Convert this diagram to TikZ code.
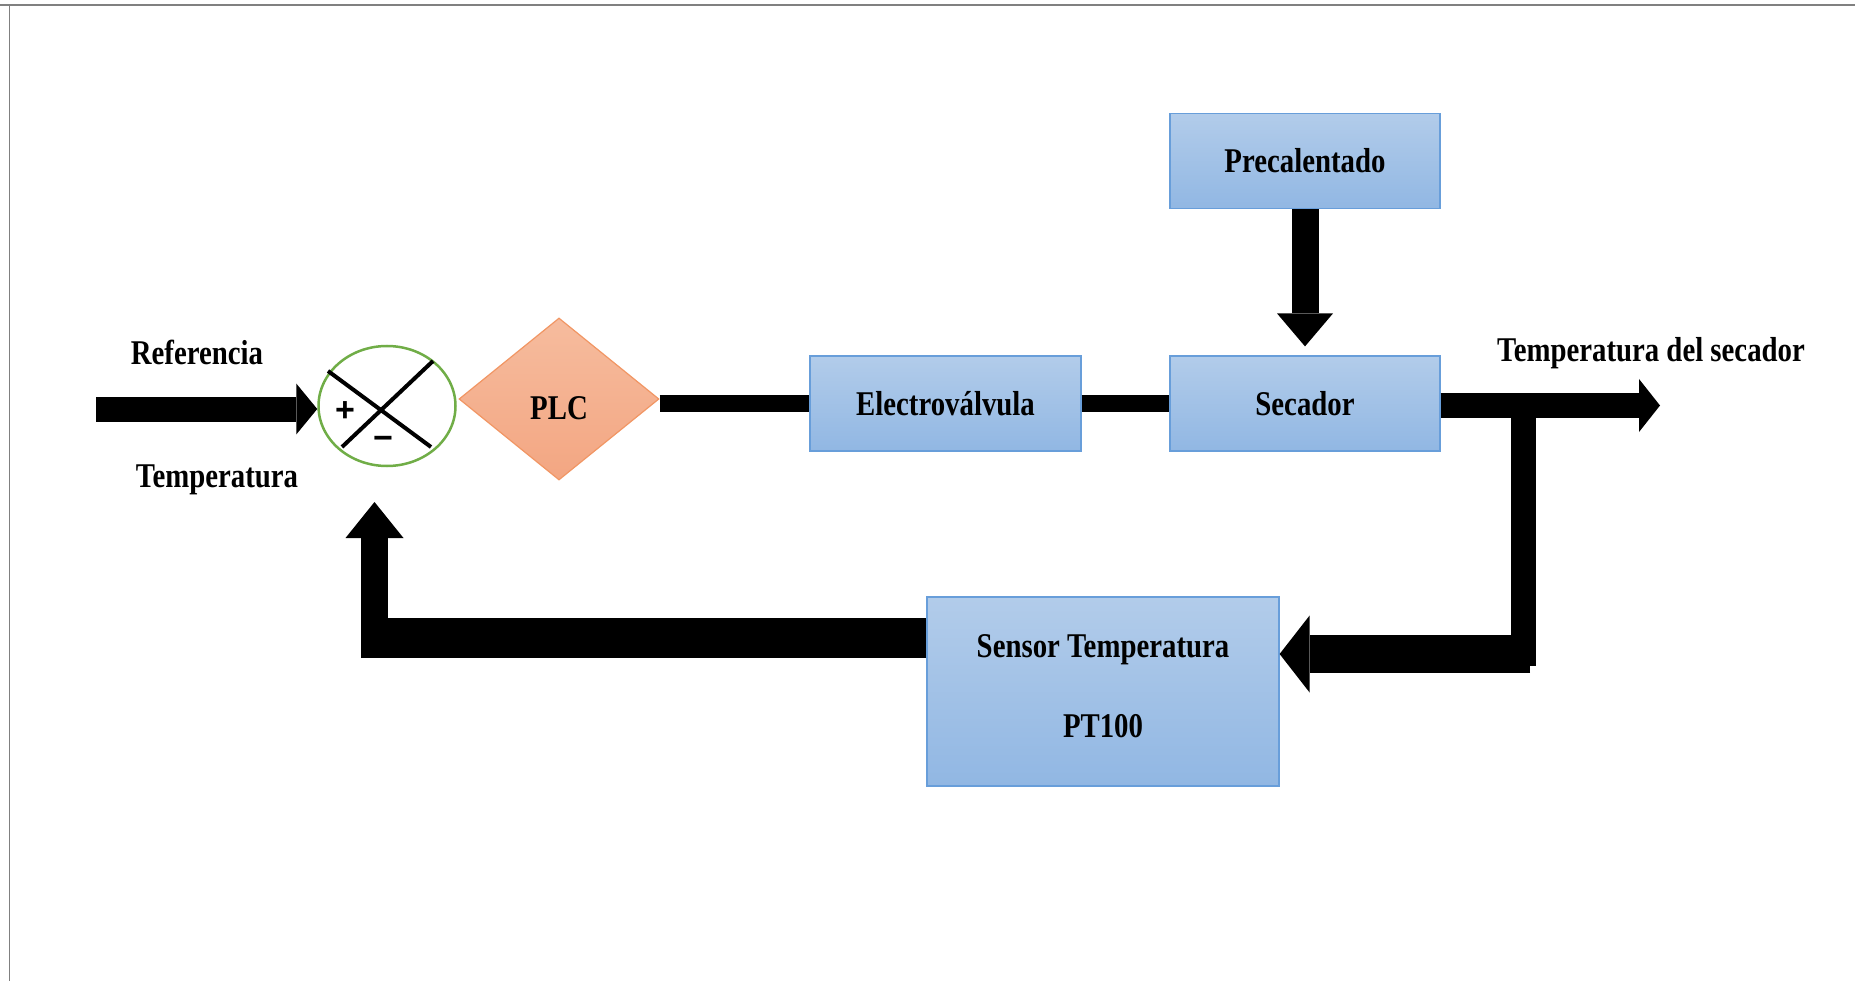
\documentclass[tikz,border=0pt]{standalone}
\usepackage{fontspec}
\setmainfont{Liberation Serif}[FakeStretch=0.83]
\newfontfamily\signfont{Liberation Sans}
\usetikzlibrary{arrows.meta,shapes.geometric,calc}
\definecolor{boxtop}{RGB}{178,204,234}
\definecolor{boxbot}{RGB}{145,183,227}
\definecolor{boxline}{RGB}{104,158,218}
\definecolor{plctop}{RGB}{246,188,158}
\definecolor{plcbot}{RGB}{243,166,130}
\definecolor{plcline}{RGB}{241,150,100}
\definecolor{sumline}{RGB}{112,173,71}
\definecolor{framegray}{RGB}{128,128,128}
\begin{document}
\begin{tikzpicture}[x=1pt,y=-1pt,
  lbl/.style={font=\fontsize{34.7}{40}\selectfont\bfseries, inner sep=0pt},
  block/.style={lbl, draw=boxline, line width=1.2pt, top color=boxtop, bottom color=boxbot,
     minimum width=270pt, minimum height=95pt, align=center},
  oneline/.style={text height=23pt, text depth=0pt},
  sign/.style={font=\signfont\fontsize{34}{40}\selectfont\bfseries, inner sep=0pt},
  conn/.style={line width=#1, line cap=butt},
  bigarrow/.style n args={3}{line width=#1, -{Triangle[length=#2, width=#3, line width=0pt]}}
]
\useasboundingbox (0,0) rectangle (1855,981);
% frame
\draw[framegray, line width=2pt] (0,5.5) -- (1855,5.5);
\draw[framegray, line width=1pt] (9.5,5.5) -- (9.5,981);

% nodes
\node[block, oneline] (pre) at (1305,161) {Precalentado};
\node[block, oneline] (sec) at (1305,403.5) {Secador};
\node[block, oneline, minimum width=271pt] (ev) at (945.5,403.5) {Electroválvula};
\node[block, font=\fontsize{34.7}{80}\selectfont\bfseries, minimum width=352pt, minimum height=189pt, text depth=11pt] (sen) at (1103,691.5) {Sensor Temperatura\\PT100};
\node[diamond, draw=plcline, line width=1.2pt, top color=plctop, bottom color=plcbot,
      aspect=1.23, minimum width=200pt, minimum height=162pt, inner sep=0pt, lbl] (plc) at (559,399) {\raisebox{-9pt}[23pt][0pt]{PLC}};
\node[ellipse, draw=sumline, line width=2.5pt, fill=white, minimum width=137pt, minimum height=120pt, inner sep=0pt] (sum) at (387,406) {};
\draw[line width=4pt] (328,371) -- (431,447);
\draw[line width=4pt] (433,361) -- (342,447);
\node[sign] (plus) at (345,412) {+};
\node[sign] (minus) at (383,443) {−};

% labels
\node[lbl, anchor=base] (ref) at (197,365) {Referencia};
\node[lbl, anchor=base] (temp) at (217,487) {Temperatura};
\node[lbl, anchor=base] (tsec) at (1651,362) {Temperatura del secador};

% connectors
\coordinate (inp) at (96,409);
\draw[bigarrow={25pt}{21pt}{51pt}] (inp) -- (inp -| sum.west);
\draw[conn=17pt] (plc.east |- ev.west) -- (ev.west);
\draw[conn=17pt] (ev.east) -- (sec.west);
\draw[bigarrow={27pt}{33pt}{56pt}] (pre.south) -- ($(sec.north)+(0,-9)$);
\coordinate (out) at (1660,405.5);
\draw[bigarrow={25pt}{21pt}{53pt}] (sec.east |- out) -- (out);
\coordinate (br) at (1523.5,405);
\coordinate (brb) at (1523.5,666);
\draw[conn=25pt] (br) -- (brb);
\coordinate (brc) at (1530,654);
\draw[bigarrow={38pt}{30pt}{77pt}] (brc) -- (brc -| sen.east);
\coordinate (fbc) at (361,638);
\draw[conn=40pt] (sen.west |- fbc) -- (fbc);
\coordinate (fbb) at (374.5,658);
\coordinate (fbtip) at (374.5,502);
\draw[bigarrow={27pt}{36pt}{58pt}] (fbb) -- (fbtip);
\end{tikzpicture}
\end{document}
